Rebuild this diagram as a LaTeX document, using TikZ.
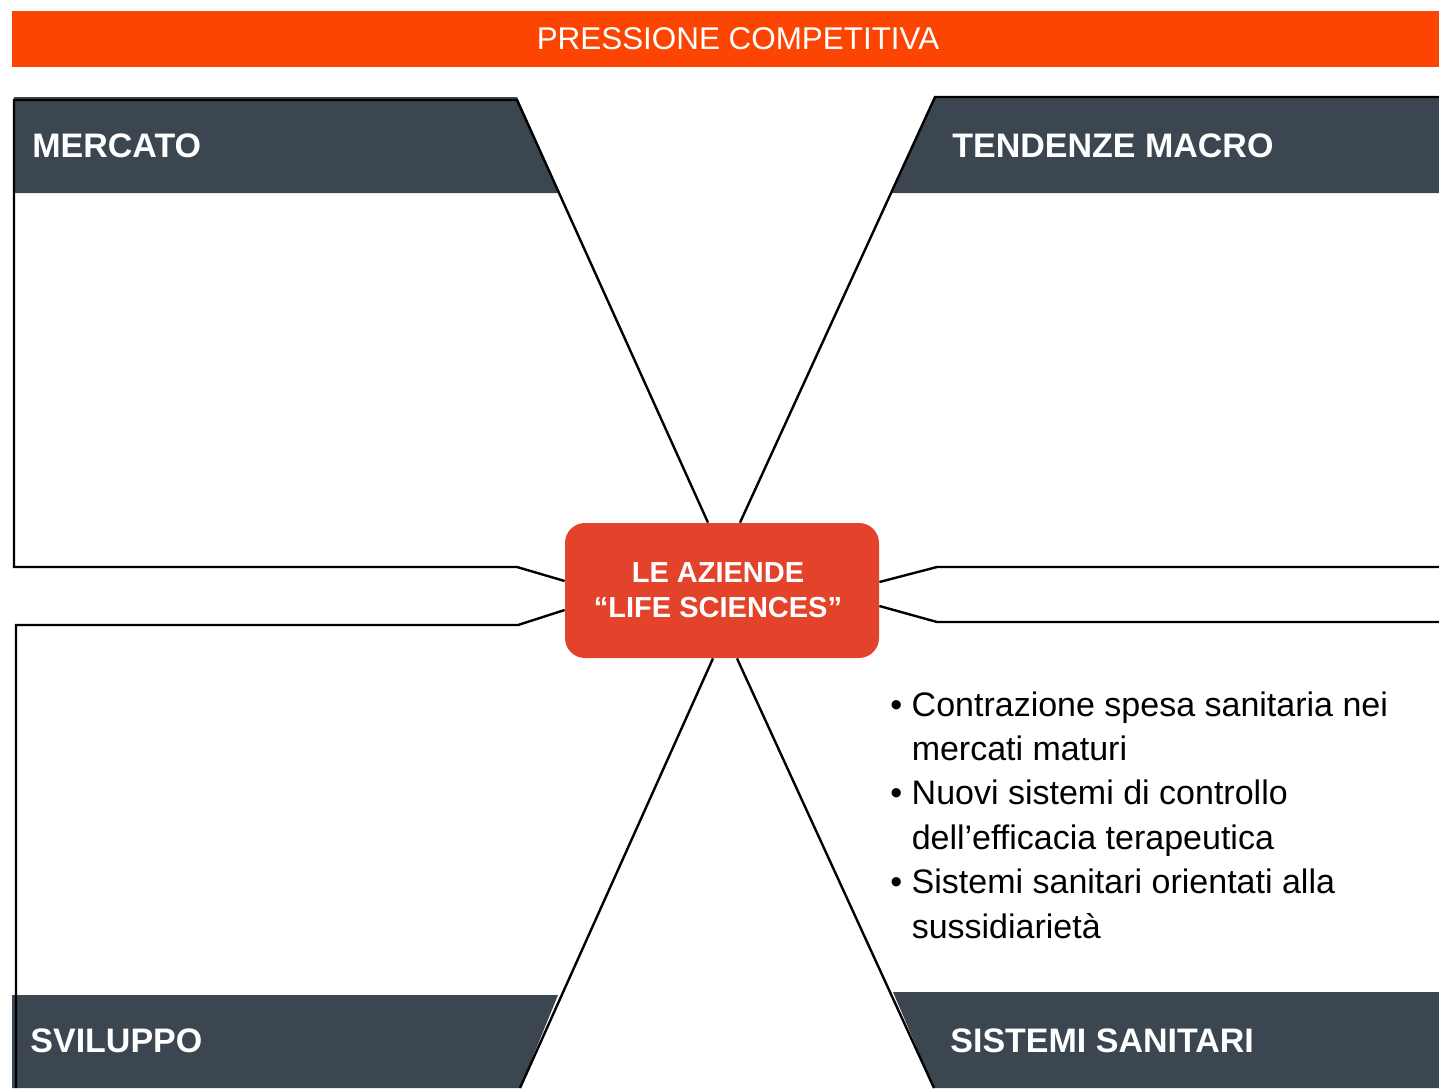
\documentclass[tikz,border=0pt]{standalone}
\usepackage{fontspec}
\setmainfont{Liberation Sans}
\usetikzlibrary{calc}

\definecolor{barra}{HTML}{FC4503}
\definecolor{pannello}{HTML}{3B4650}
\definecolor{centro}{HTML}{E2432A}

\tikzset{
  titolo/.style={anchor=base west, text=white, inner sep=0pt,
    font=\fontsize{17}{20}\selectfont\bfseries},
  bordo/.style={draw=black, line width=1.2pt, line join=miter},
}

\begin{document}
\begin{tikzpicture}[x=0.5pt, y=-0.5pt]
        \useasboundingbox (0,0) rectangle (1439,1088);

        \fill[barra] (12,11) rectangle (1439,67);
        \node[anchor=base, text=white, inner sep=0pt, font=\fontsize{15.7}{18}\selectfont] (pressione) at (738,49) {PRESSIONE COMPETITIVA};

        % pannelli scuri
        \fill[pannello] (14,97) -- (517,97) -- (560,193) -- (14,193) -- cycle;
        \fill[pannello] (935,97) -- (1439,97) -- (1439,193) -- (892,193) -- cycle;
        \fill[pannello] (12,995) -- (558,995) -- (520,1088) -- (12,1088) -- cycle;
        \fill[pannello] (893,992) -- (1439,992) -- (1439,1088) -- (934,1088) -- cycle;

        \node[titolo] (mercato) at (32,157) {MERCATO};
        \node[titolo] (tendenze) at (952,157) {TENDENZE MACRO};
        \node[titolo] (sviluppo) at (30,1052) {SVILUPPO};
        \node[titolo] (sistemi) at (950,1052) {SISTEMI SANITARI};

        \node[fill=centro, rounded corners=10pt, minimum width=157pt, minimum height=67.5pt,
              text=white, align=center, font=\fontsize{14.5}{17.5}\selectfont\bfseries] (aziende) at (722,590.5) {LE AZIENDE\hspace*{4pt}\\“LIFE SCIENCES”\hspace*{4pt}};

        \coordinate (mercatoA) at (517,100);
        \coordinate (tendenzeA) at (935,97);
        \coordinate (sviluppoA) at (520,1088);
        \coordinate (sistemiA) at (934,1088);

        \draw[bordo] ($(aziende.north)+(-14,0)$) -- (mercatoA) -- (14,100) -- (14,567) -- (517,567) -- ($(aziende.west)+(0,-9.5)$);
        \draw[bordo] ($(aziende.west)+(0,19.5)$) -- (518,625) -- (16,625) -- (16,1088);
        \draw[bordo] ($(aziende.north)+(18,0)$) -- (tendenzeA) -- (1439,97);
        \draw[bordo] ($(aziende.east)+(0,-8.5)$) -- (937,567) -- (1439,567);
        \draw[bordo] ($(aziende.east)+(0,15.5)$) -- (937,622) -- (1439,622);
        \draw[bordo] ($(aziende.south)+(-9,0)$) -- (sviluppoA);
        \draw[bordo] ($(aziende.south)+(15,0)$) -- (sistemiA);

        \node[anchor=north west, inner sep=0pt, align=left, font=\fontsize{17}{22.2}\selectfont] (elenco) at (890,691)
            {\textbullet\ Contrazione spesa sanitaria nei\\
             \phantom{\textbullet\ }mercati maturi\\
             \textbullet\ Nuovi sistemi di controllo\\
             \phantom{\textbullet\ }dell’efficacia terapeutica\\
             \textbullet\ Sistemi sanitari orientati alla\\
             \phantom{\textbullet\ }sussidiarietà};
\end{tikzpicture}
\end{document}
